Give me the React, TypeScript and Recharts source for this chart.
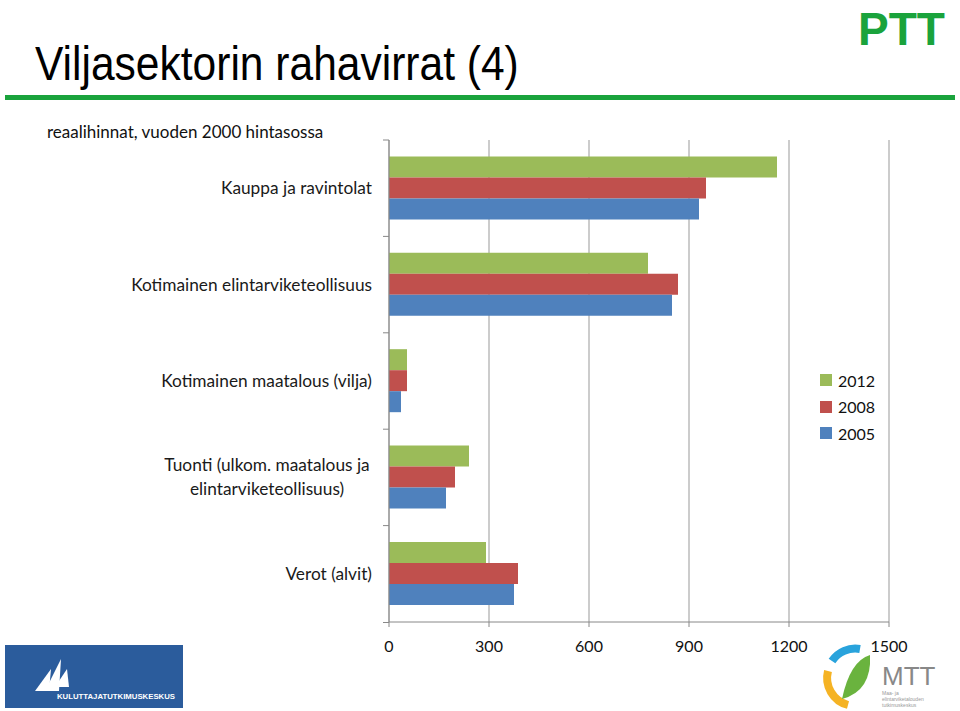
import React from 'react'
import { BarChart, Bar, XAxis, YAxis, CartesianGrid } from 'recharts'

const CATEGORIES = [
  'Kauppa ja ravintolat',
  'Kotimainen elintarviketeollisuus',
  'Kotimainen maatalous (vilja)',
  'Tuonti (ulkom. maatalous ja\nelintarviketeollisuus)',
  'Verot (alvit)',
]
const V2012 = [1164, 777, 54, 240, 291]
const V2008 = [951, 867, 54, 198, 387]
const V2005 = [930, 849, 36, 171, 375]
const X_TICKS = [0, 300, 600, 900, 1200, 1500]

const SERIES = [
  { key: 'y2012', label: '2012', color: '#9BBB59' },
  { key: 'y2008', label: '2008', color: '#C0504D' },
  { key: 'y2005', label: '2005', color: '#4F81BD' },
]

const data = CATEGORIES.map((name, i) => ({
  name,
  y2012: V2012[i],
  y2008: V2008[i],
  y2005: V2005[i],
}))

const FONT = 'Lato, Carlito, "Open Sans", sans-serif'
const BAND = (622 - 140) / CATEGORIES.length

function CategoryTick(props: any) {
  const { x, y, payload } = props
  const lines = String(payload.value).split('\n')
  const axisX = x + 8
  return (
    <g>
      <line x1={axisX - 6} x2={axisX} y1={y - BAND / 2} y2={y - BAND / 2} stroke="#888" />
      {lines.length === 1 ? (
        <text x={372} y={y} dy={6} textAnchor="end" fontSize={17.3} fill="#1a1a1a" fontFamily={FONT}>
          {lines[0]}
        </text>
      ) : (
        lines.map((l, k) => (
          <text key={k} x={267} y={y + (k - (lines.length - 1) / 2) * 24} dy={6} textAnchor="middle"
            fontSize={17.3} fill="#1a1a1a" fontFamily={FONT}>
            {l}
          </text>
        ))
      )}
    </g>
  )
}

function LegendBox() {
  return (
    <div style={{ position: 'absolute', left: 820, top: 367, fontFamily: FONT, fontSize: 16, color: '#111' }}>
      {SERIES.map(s => (
        <div key={s.key} style={{ display: 'flex', alignItems: 'center', height: 26.5 }}>
          <span style={{ width: 12, height: 12, background: s.color, marginRight: 6, display: 'inline-block' }} />
          <span>{s.label}</span>
        </div>
      ))}
    </div>
  )
}

export default function App() {
  return (
    <div style={{ position: 'absolute', left: 0, top: 0, width: 960, height: 711, background: '#fff', overflow: 'hidden' }}>
      <div style={{ position: 'absolute', left: 35, top: 34, fontFamily: '"Liberation Sans", sans-serif', fontSize: 48, lineHeight: '60px', color: '#000', transform: 'scaleX(0.886)', transformOrigin: 'left', whiteSpace: 'nowrap' }}>
        Viljasektorin rahavirrat (4)
      </div>
      <div style={{ position: 'absolute', left: 5, top: 95, width: 950, height: 5, background: '#1aa33c' }} />
      <div style={{ position: 'absolute', left: 47, top: 121, fontFamily: FONT, fontSize: 17, color: '#111' }}>
        reaalihinnat, vuoden 2000 hintasossa
      </div>
      {/* PTT logo */}
      <svg width={105} height={62} style={{ position: 'absolute', left: 855, top: 0 }}>
        <text x={3} y={45} textLength={87} lengthAdjust="spacingAndGlyphs" fontFamily='"Liberation Sans", sans-serif'
          fontWeight={700} fontSize={46} fill="#1aa33c">PTT</text>
      </svg>
      {/* Kuluttajatutkimuskeskus logo */}
      <svg width={178} height={63} style={{ position: 'absolute', left: 5, top: 645, background: '#2b5c9c' }}>
        <polygon points="30,46 46,24 44,46" fill="#fff" />
        <polygon points="40,46 56,14 54,46" fill="#fff" />
        <polygon points="50,42 62,24 64,42" fill="#fff" />
        <text x={52} y={54} textLength={118} lengthAdjust="spacingAndGlyphs" fontFamily='"Liberation Sans", sans-serif'
          fontWeight={700} fontSize={7} fill="#fff">KULUTTAJATUTKIMUSKESKUS</text>
      </svg>
      {/* MTT logo */}
      <svg width={130} height={70} style={{ position: 'absolute', left: 820, top: 641 }}>
        <path d="M 40 8 A 28 28 0 0 0 12 20" stroke="#29a3dc" strokeWidth={8} fill="none" />
        <path d="M 8 30 A 28 28 0 0 0 28 64" stroke="#f5b324" strokeWidth={8} fill="none" />
        <path d="M 22 58 Q 30 20 50 14 Q 52 50 22 58 Z" fill="#6ab33e" />
        <text x={62} y={44} fontFamily='"Liberation Sans", sans-serif' fontSize={26} fill="#888">MTT</text>
        <text x={62} y={54} fontFamily='"Liberation Sans", sans-serif' fontSize={5} fill="#999">Maa- ja</text>
        <text x={62} y={60} fontFamily='"Liberation Sans", sans-serif' fontSize={5} fill="#999">elintarviketalouden</text>
        <text x={62} y={66} fontFamily='"Liberation Sans", sans-serif' fontSize={5} fill="#999">tutkimuskeskus</text>
      </svg>

      <div style={{ position: 'absolute', left: 0, top: 0 }}>
        <BarChart
          width={960}
          height={711}
          data={data}
          layout="vertical"
          margin={{ top: 140, right: 71, left: 0, bottom: 59 }}
          barCategoryGap="17%"
          barGap={0}
        >
          <CartesianGrid horizontal={false} stroke="#999" />
          <XAxis
            type="number"
            domain={[0, 1500]}
            ticks={X_TICKS}
            interval={0}
            height={30}
            axisLine={{ stroke: '#888' }}
            tickLine={{ stroke: '#888' }}
            tickSize={5}
            tick={{ fontSize: 16, fill: '#111', fontFamily: FONT, dy: 12 }}
          />
          <YAxis
            type="category"
            dataKey="name"
            width={389}
            axisLine={{ stroke: '#888' }}
            tickLine={false}
            tick={<CategoryTick />}
            interval={0}
          />
          {SERIES.map(s => (
            <Bar key={s.key} dataKey={s.key} name={s.label} fill={s.color} isAnimationActive={false} />
          ))}
        </BarChart>
      </div>
      <LegendBox />
      <div style={{ position: 'absolute', left: 383, top: 622, width: 6, height: 1, background: '#888' }} />
    </div>
  )
}
